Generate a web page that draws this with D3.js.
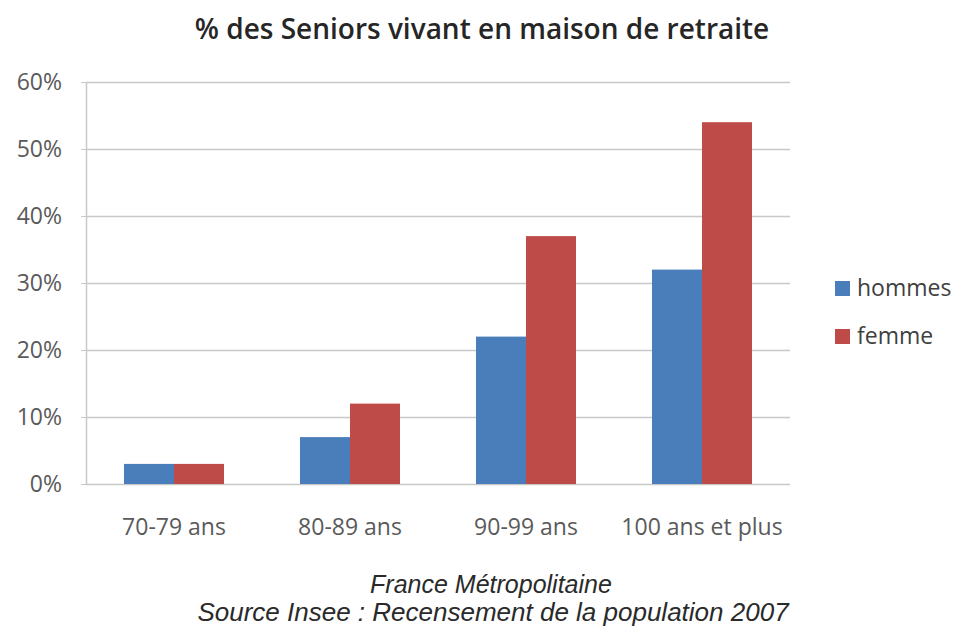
<!DOCTYPE html>
<html>
<head>
<meta charset="utf-8">
<script src="https://cdn.jsdelivr.net/npm/d3@7"></script>
<style>
  body { margin: 0; background: #fff; }
  svg text { font-family: "Open Sans", sans-serif; }
</style>
</head>
<body>
<div id="chart"></div>
<script>
// Data
const categories = ['70-79 ans', '80-89 ans', '90-99 ans', '100 ans et plus'];
const seriesNames = ['hommes', 'femme'];
const hommes = [3, 7, 22, 32];
const femme = [3, 12, 37, 54];
const yTicks = [0, 10, 20, 30, 40, 50, 60];

const colors = { hommes: '#4a7ebb', femme: '#be4b48' };
const W = 955, H = 629;
const margin = { top: 82, right: 165, bottom: 145, left: 86 };
const width = W - margin.left - margin.right;
const height = H - margin.top - margin.bottom;

const svg = d3.select('#chart')
    .append('svg')
    .attr('width', W)
    .attr('height', H);

const g = svg.append('g')
    .attr('transform', `translate(${margin.left}, ${margin.top})`);

// Scales
const x = d3.scaleBand().domain(categories).range([0, width]).padding(0);
const xSub = d3.scaleBand().domain(seriesNames)
    .range([x.bandwidth() / 2 - 50, x.bandwidth() / 2 + 50]);
const y = d3.scaleLinear().domain([0, 60]).range([height, 0]);

// Gridlines
g.append('g')
    .selectAll('line')
    .data(yTicks)
    .enter()
    .append('line')
    .attr('x1', 0)
    .attr('x2', width)
    .attr('y1', (d) => Math.round(y(d)) + 0.5)
    .attr('y2', (d) => Math.round(y(d)) + 0.5)
    .attr('stroke', '#c8c8c8')
    .attr('stroke-width', 1.5);

// Left axis line + small ticks
g.append('line')
    .attr('x1', 0.5).attr('x2', 0.5)
    .attr('y1', 0).attr('y2', height)
    .attr('stroke', '#c8c8c8').attr('stroke-width', 1.5);

const yAxis = d3.axisLeft(y)
    .tickValues(yTicks)
    .tickFormat((d) => d + '%')
    .tickSize(5)
    .tickPadding(19);
const ya = g.append('g').call(yAxis);
ya.select('.domain').remove();
ya.selectAll('line').attr('stroke', '#c8c8c8');
ya.selectAll('text').attr('fill', '#5a5a5a').style('font-size', '23px');

// Bars
const data = categories.map((c, i) => ({ cat: c, hommes: hommes[i], femme: femme[i] }));
const groups = g.append('g')
    .selectAll('g')
    .data(data)
    .enter()
    .append('g')
    .attr('transform', (d) => `translate(${x(d.cat)}, 0)`);

groups.selectAll('rect')
    .data((d) => seriesNames.map((k) => ({ key: k, value: d[k] })))
    .enter()
    .append('rect')
    .attr('x', (d) => xSub(d.key))
    .attr('y', (d) => y(d.value))
    .attr('width', xSub.bandwidth())
    .attr('height', (d) => height - y(d.value))
    .attr('fill', (d) => colors[d.key]);

// X axis labels
const xAxis = d3.axisBottom(x).tickSize(0).tickPadding(35);
const xa = g.append('g').attr('transform', `translate(0, ${height})`).call(xAxis);
xa.select('.domain').remove();
xa.selectAll('text').attr('fill', '#5a5a5a').style('font-size', '23px');

// Title
svg.append('text')
    .attr('x', 482)
    .attr('y', 39)
    .attr('text-anchor', 'middle')
    .attr('fill', '#262626')
    .style('font-size', '28px')
    .style('font-weight', 600)
    .text('% des Seniors vivant en maison de retraite');

// Legend
const legend = svg.append('g').attr('transform', 'translate(835, 281)');
seriesNames.forEach((k, i) => {
    const row = legend.append('g').attr('transform', `translate(0, ${i * 48})`);
    row.append('rect').attr('width', 15).attr('height', 15).attr('fill', colors[k]);
    row.append('text')
        .attr('x', 22).attr('y', 15)
        .attr('fill', '#404040')
        .style('font-size', '23px')
        .text(k);
});

// Footer
svg.append('text')
    .attr('x', 491).attr('y', 593)
    .attr('text-anchor', 'middle')
    .attr('fill', '#2a2a2a')
    .style('font-family', '"Liberation Sans", Arial, sans-serif')
    .style('font-style', 'italic')
    .style('font-size', '25px')
    .text('France Métropolitaine');
svg.append('text')
    .attr('x', 493).attr('y', 621)
    .attr('text-anchor', 'middle')
    .attr('fill', '#2a2a2a')
    .style('font-family', '"Liberation Sans", Arial, sans-serif')
    .style('font-style', 'italic')
    .style('font-size', '26px')
    .text('Source Insee : Recensement de la population 2007');
</script>
</body>
</html>
